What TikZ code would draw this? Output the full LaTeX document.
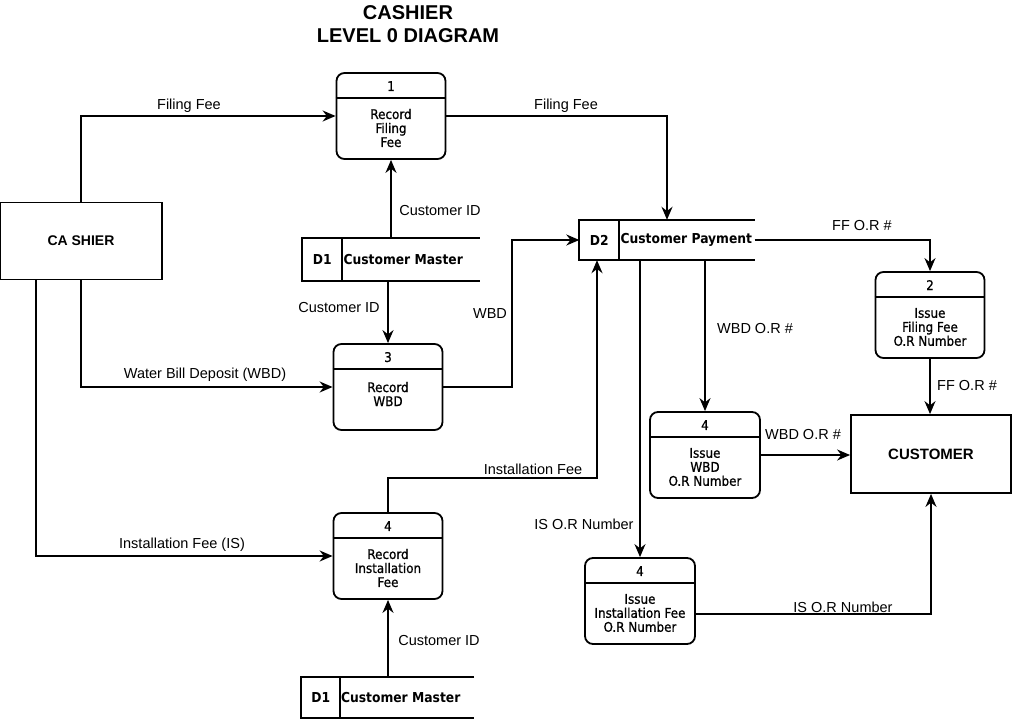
\documentclass[tikz,border=0pt]{standalone}
\usepackage{fontspec}
\setmainfont{Liberation Sans}
\newfontfamily\boxfont{DejaVu Sans Condensed}
\newfontfamily\procfont[FakeBold=0.9]{DejaVu Sans Condensed}
\usetikzlibrary{arrows.meta, positioning}

\tikzset{
    proc/.style={draw, line width=1.8pt, rounded corners=8pt, minimum width=109pt, minimum height=86pt, inner sep=0pt},
    ext/.style={draw, line width=1.8pt, minimum width=162pt, minimum height=77pt, font=\bfseries\fontsize{14}{16}\selectfont},
    store/.style={minimum width=175pt, minimum height=42pt, inner sep=0pt},
    boxtxt/.style={font=\procfont\fontsize{13.3}{14}\selectfont, align=center, inner sep=0pt},
    storetxt/.style={font=\boxfont\bfseries\fontsize{13.7}{15}\selectfont, inner sep=0pt},
    lbl/.style={font=\fontsize{14.5}{16}\selectfont, inner sep=0pt},
    flow/.style={-{Stealth[length=13pt, width=11pt]}, line width=1.8pt},
}

\begin{document}
\begin{tikzpicture}[x=1pt, y=-1pt]
    \useasboundingbox (0,0) rectangle (1015,719);

    % Title
    \node[align=center, font=\bfseries\fontsize{20}{23}\selectfont] (title) at (408,24.5) {CASHIER\\LEVEL 0 DIAGRAM};

    % External entities
    \node[ext] (cashier) at (81,241) {CA SHIER};
    \node[ext, minimum width=160pt, minimum height=78pt, font=\bfseries\fontsize{15}{17}\selectfont] (customer) at (931,454) {CUSTOMER};

    % Processes
    \node[proc] (P1) at (391,116) {};
    \node[proc] (P2) at (930,315) {};
    \node[proc] (P3) at (388,387) {};
    \node[proc] (P4) at (388,556) {};
    \node[proc, minimum width=110pt] (P5) at (705,455) {};
    \node[proc, minimum width=110pt] (P6) at (640,601) {};
    \foreach \p in {P1,P2,P3,P4,P5,P6}
        \draw[line width=1.4pt] ([yshift=-26pt]\p.north west) -- ([yshift=-26pt]\p.north east);

    \node[boxtxt] (P1n) at ([yshift=-14pt]P1.north) {1};
    \node[boxtxt] (P1t) at ([yshift=-12pt]P1.center) {Record\\Filing\\Fee};
    \node[boxtxt] (P2n) at ([yshift=-14pt]P2.north) {2};
    \node[boxtxt] (P2t) at ([yshift=-12pt]P2.center) {Issue\\Filing Fee\\O.R Number};
    \node[boxtxt] (P3n) at ([yshift=-14pt]P3.north) {3};
    \node[boxtxt] (P3t) at ([yshift=-7pt]P3.center) {Record\\WBD};
    \node[boxtxt] (P4n) at ([yshift=-14pt]P4.north) {4};
    \node[boxtxt] (P4t) at ([yshift=-12pt]P4.center) {Record\\Installation\\Fee};
    \node[boxtxt] (P5n) at ([yshift=-14pt]P5.north) {4};
    \node[boxtxt] (P5t) at ([yshift=-12pt]P5.center) {Issue\\WBD\\O.R Number};
    \node[boxtxt] (P6n) at ([yshift=-14pt]P6.north) {4};
    \node[boxtxt] (P6t) at ([yshift=-12pt]P6.center) {Issue\\Installation Fee\\O.R Number};

    % Data stores
    \node[store, minimum width=177pt, minimum height=43pt] (D1a) at (391,259.5) {};
    \node[store, minimum width=175pt, minimum height=40pt] (D2) at (667,240) {};
    \node[store, minimum width=173pt, minimum height=41pt] (D1b) at (387.5,697.5) {};
    \foreach \s/\w in {D1a/40,D2/40,D1b/39} {
        \draw[line width=1.8pt] (\s.north east) -- (\s.north west) -- (\s.south west) -- (\s.south east);
        \draw[line width=1.8pt] ([xshift=\w pt]\s.north west) -- ([xshift=\w pt]\s.south west);
    }
    \node[storetxt] (D1an) at ([xshift=20pt]D1a.west) {D1};
    \node[storetxt, anchor=west] (D1at) at ([xshift=41pt]D1a.west) {Customer Master};
    \node[storetxt] (D2n) at ([xshift=20pt]D2.west) {D2};
    \node[storetxt, anchor=west] (D2t) at ([xshift=41pt]D2.west) {Customer Payment};
    \node[storetxt] (D1bn) at ([xshift=20pt]D1b.west) {D1};
    \node[storetxt, anchor=west] (D1bt) at ([xshift=40pt]D1b.west) {Customer Master};

    % Bend points
    \coordinate (bWBD) at (512,387);
    \coordinate (bIF) at (597,478);

    % Flows
    \draw[flow] (cashier.north) |- (P1.west);
    \draw[flow] (P1.east) -| (D2.north);
    \draw[flow] (D1a.north -| P1.south) -- (P1.south);
    \draw[flow] (D1a.south -| P3.north) -- (P3.north);
    \draw[flow] (cashier.south) |- (P3.west);
    \draw[flow] (P3.east) -| (bWBD |- D2.west) -- (D2.west);
    \draw[flow] ([xshift=37pt]cashier.south west) |- (P4.west);
    \draw[flow] (P4.north) |- (bIF) -- (bIF |- D2.south);
    \draw[flow] (D1b.north -| P4.south) -- (P4.south);
    \draw[flow] (D2.east) -| (P2.north);
    \draw[flow] (P2.south) -- (P2.south |- customer.north);
    \draw[flow] (P5.north |- D2.south) -- (P5.north);
    \draw[flow] (P5.east) -- (P5.east -| customer.west);
    \draw[flow] (P6.north |- D2.south) -- (P6.north);
    \draw[flow] ([yshift=-13pt]P6.east) -| (customer.south);

    % Flow labels
    \node[lbl] (lFF1) at (189,106) {Filing Fee};
    \node[lbl] (lFF2) at (566,106) {Filing Fee};
    \node[lbl] (lCID1) at (440,211) {Customer ID};
    \node[lbl] (lCID2) at (339,308) {Customer ID};
    \node[lbl] (lCID3) at (439,641) {Customer ID};
    \node[lbl] (lWBD1) at (205,375) {Water Bill Deposit (WBD)};
    \node[lbl] (lWBD2) at (490,314) {WBD};
    \node[lbl] (lIS1) at (182,545) {Installation Fee (IS)};
    \node[lbl] (lIS2) at (533,469) {Installation Fee};
    \node[lbl] (lFFOR1) at (862,226) {FF O.R \#};
    \node[lbl] (lFFOR2) at (967,386) {FF O.R \#};
    \node[lbl] (lWOR1) at (755,329) {WBD O.R \#};
    \node[lbl] (lWOR2) at (803,435) {WBD O.R \#};
    \node[lbl] (lISOR1) at (584,524) {IS O.R Number};
    \node[lbl] (lISOR2) at (843,607) {IS O.R Number};
\end{tikzpicture}
\end{document}
